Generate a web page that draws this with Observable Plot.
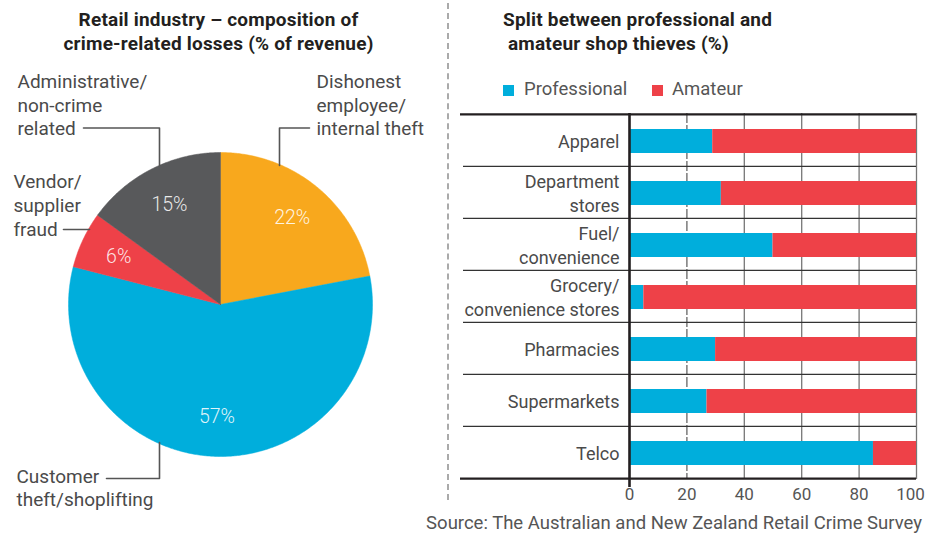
<!DOCTYPE html>
<html>
<head>
<meta charset="utf-8">
<script src="https://cdn.jsdelivr.net/npm/d3@7"></script>
<script src="https://cdn.jsdelivr.net/npm/@observablehq/plot@0.6"></script>
<style>
  body { margin: 0; background: #fff; font-family: Roboto, "DejaVu Sans", sans-serif; }
  #root { position: relative; width: 926px; height: 534px; overflow: hidden; background: #fff; }
  .abs { position: absolute; }
  .title { font-weight: 700; font-size: 19px; color: #231f20; line-height: 24px; letter-spacing: 0.2px; }
  .leg { font-size: 18.5px; color: #555; line-height: 20px; white-space: nowrap; }
  .sw { display: inline-block; width: 11px; height: 11px; }
  .src { font-size: 18.5px; color: #555; white-space: nowrap; line-height: 20px; }
  .divider { position: absolute; left: 447px; top: 3px; height: 497px; width: 0; border-left: 2px dashed #aaa; }
</style>
</head>
<body>
<div id="root">
  <div class="abs title" style="left:0; width:437px; top:8px; text-align:center;">Retail industry – composition of<br>crime-related losses (% of revenue)</div>
  <div class="divider"></div>
  <div class="abs title" style="left:503px; top:8px; white-space:pre;">Split between professional and<br> amateur shop thieves (%)</div>
  <div class="abs leg" style="left:503px; top:80px;"><span class="sw" id="sw1"></span></div>
  <div class="abs leg" style="left:524px; top:79px;" id="lg1"></div>
  <div class="abs leg" style="left:652px; top:80px;"><span class="sw" id="sw2"></span></div>
  <div class="abs leg" style="left:672px; top:79px;" id="lg2"></div>
  <div class="abs src" style="right:4px; top:513px;">Source: The Australian and New Zealand Retail Crime Survey</div>
  <div class="abs" id="pie" style="left:0; top:0;"></div>
  <div class="abs" id="bars" style="left:448px; top:0;"></div>
</div>
<script>
// ---------- Pie data ----------
const sliceNames = ["Dishonest employee/internal theft", "Customer theft/shoplifting", "Vendor/supplier fraud", "Administrative/non-crime related"];
const sliceValues = [22, 57, 6, 15];
const sliceLabels = ["22%", "57%", "6%", "15%"];
const sliceColors = ["#F8A81D", "#00AEDC", "#EE4148", "#58595B"];
const annotationTexts = ["Administrative/\nnon-crime\nrelated", "Dishonest\nemployee/\ninternal theft", "Vendor/\nsupplier\nfraud", "Customer\ntheft/shoplifting"];

// ---------- Bar data ----------
const categories = ["Apparel", "Department\nstores", "Fuel/\nconvenience", "Grocery/\nconvenience stores", "Pharmacies", "Supermarkets", "Telco"];
const professional = [29, 32, 50, 5, 30, 27, 85];
const amateur = [71, 68, 50, 95, 70, 73, 15];
const seriesNames = ["Professional", "Amateur"];
const seriesColors = ["#00AEDC", "#EE4148"];
const xTicks = [0, 20, 40, 60, 80, 100];

// ---------- Pie ----------
const R = 152;
const arcs = d3.pie().sort(null).value(d => d)(sliceValues);
const piePts = [];
arcs.forEach((a, i) => {
  piePts.push({name: sliceNames[i], x: 0, y: 0});
  const n = Math.max(2, Math.ceil((a.endAngle - a.startAngle) / (Math.PI / 360)));
  for (let k = 0; k <= n; k++) {
    const t = a.startAngle + (a.endAngle - a.startAngle) * k / n;
    piePts.push({name: sliceNames[i], x: R * Math.sin(t), y: -R * Math.cos(t)});
  }
  piePts.push({name: sliceNames[i], x: 0, y: 0});
});
const pctLabels = arcs.map((a, i) => {
  const m = (a.startAngle + a.endAngle) / 2;
  return {label: sliceLabels[i], x: 0.74 * R * Math.sin(m), y: -0.74 * R * Math.cos(m)};
});
// leader lines (relative to pie centre)
const leaders = [
  {id: "a", pts: [[-137, -176.5], [-61, -176.5], [-61, -139]]},
  {id: "d", pts: [[89, -176.5], [59, -176.5], [59, -139]]},
  {id: "v", pts: [[-157, -75], [-131, -75]]},
  {id: "c", pts: [[-114, 174], [-61, 174], [-61, 138]]}
].flatMap(l => l.pts.map(p => ({id: l.id, x: p[0], y: p[1]})));
const annPos = [
  {text: annotationTexts[0], x: -203, y: -200.5},
  {text: annotationTexts[1], x: 96, y: -200.5},
  {text: annotationTexts[2], x: -207, y: -100},
  {text: annotationTexts[3], x: -204, y: 182.5}
];

const pie = Plot.plot({
  width: 448, height: 534,
  margin: 0,
  x: {domain: [-220, 228], range: [0, 448], axis: null},
  y: {domain: [-304, 230], range: [0, 534], axis: null},
  color: {domain: sliceNames, range: sliceColors},
  style: {fontFamily: "Roboto, 'DejaVu Sans', sans-serif", background: "transparent"},
  marks: [
    Plot.line(piePts, {x: "x", y: "y", z: "name", fill: "name", stroke: "name", strokeWidth: 0.5, curve: "linear"}),
    Plot.text(pctLabels, {x: "x", y: "y", text: "label", fill: "#fff", fillOpacity: 0.88, fontSize: 19.5, fontWeight: 300}),
    Plot.line(leaders, {x: "x", y: "y", z: "id", stroke: "#555", strokeWidth: 1.6}),
    Plot.text(annPos, {x: "x", y: "y", text: "text", textAnchor: "start", lineAnchor: "middle", lineHeight: 1.24, fontSize: 19, fill: "#4a4a4a"})
  ]
});
document.getElementById("pie").append(pie);

// ---------- Bars ----------
const rows = [];
categories.forEach((c, i) => {
  rows.push({cat: c, type: seriesNames[0], value: professional[i]});
  rows.push({cat: c, type: seriesNames[1], value: amateur[i]});
});
const W = 478, H = 534, mL = 181, mR = 10, mT = 113, mB = 55;
const bw = (H - mT - mB) / categories.length;
const pxToX = p => (p - (448 + mL)) / (W - mL - mR) * 100; // pixel (page) -> x value
const bars = Plot.plot({
  width: W, height: H,
  marginLeft: mL, marginRight: mR, marginTop: mT, marginBottom: mB,
  x: {domain: [0, 100]},
  y: {domain: categories, padding: 0},
  color: {domain: seriesNames, range: seriesColors},
  style: {fontFamily: "Roboto, 'DejaVu Sans', sans-serif", background: "transparent"},
  marks: [
    Plot.ruleX([20], {stroke: "#666", strokeWidth: 1.3, strokeDasharray: "10,2"}),
    Plot.ruleX([40, 60, 80, 100], {stroke: "#777", strokeWidth: 1.3}),
    Plot.barX(rows, {x: "value", y: "cat", fill: "type", insetTop: 15, insetBottom: 13}),
    Plot.ruleY(categories.slice(1), {y: d => d, dy: -bw / 2, x1: pxToX(463), x2: 100, stroke: "#333", strokeWidth: 1.4}),
    Plot.ruleY([categories[0]], {y: d => d, dy: -bw / 2, x1: pxToX(460), x2: 100, stroke: "#231f20", strokeWidth: 2.4}),
    Plot.ruleY([categories[categories.length - 1]], {y: d => d, dy: bw / 2, x1: pxToX(460), x2: 100, stroke: "#231f20", strokeWidth: 2.4}),
    Plot.ruleX([0], {stroke: "#231f20", strokeWidth: 2.6, insetBottom: -8}),
    Plot.axisY({tickSize: 0, tickPadding: 10, fontSize: 18, color: "#4a4a4a", label: null, lineHeight: 1.3}),
    Plot.axisX({ticks: xTicks.slice(0, -1), tickSize: 0, tickPadding: 8, fontSize: 17, color: "#555", label: null}),
    Plot.axisX({ticks: xTicks.slice(-1), tickSize: 0, tickPadding: 8, fontSize: 17, color: "#555", label: null, dx: -6})
  ]
});
document.getElementById("bars").append(bars);

// legend
document.getElementById("sw1").style.background = seriesColors[0];
document.getElementById("sw2").style.background = seriesColors[1];
document.getElementById("lg1").textContent = seriesNames[0];
document.getElementById("lg2").textContent = seriesNames[1];
</script>
</body>
</html>
